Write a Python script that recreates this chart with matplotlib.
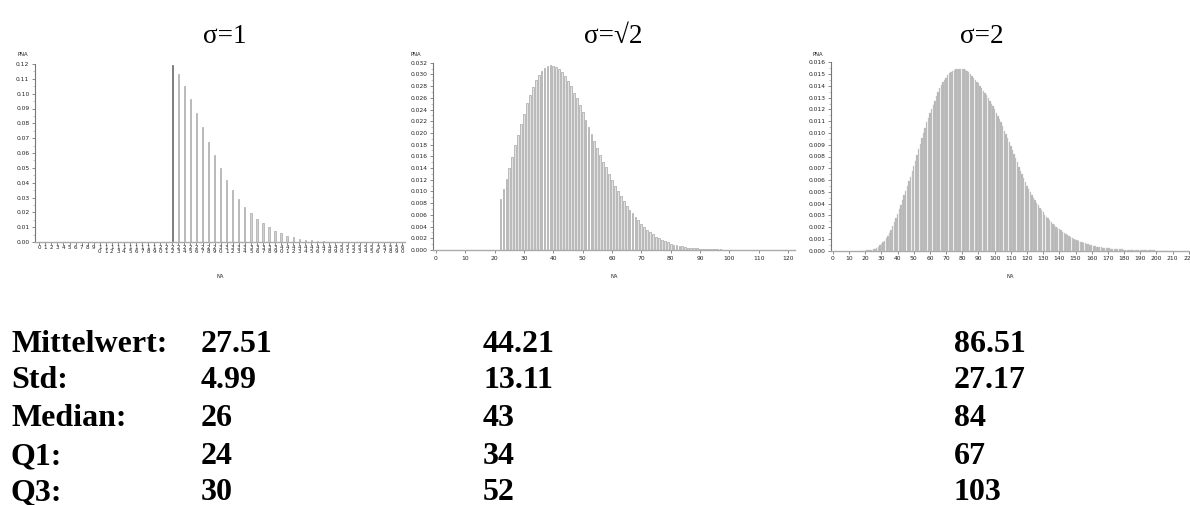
"""Three NA distributions (sigma = 1, sqrt2, 2) with summary statistics below."""

import numpy as np
import matplotlib.pyplot as plt
from matplotlib.ticker import MultipleLocator, AutoMinorLocator, FixedLocator

plt.rcParams.update({"font.family": "DejaVu Sans"})

W, H = 1190, 505

# --- data ----------------------------------------------------------------
titles = ["σ=1", "σ=√2", "σ=2"]

# panel 1: categorical axis 0..60, bars from NA=22
na1_start = 22
pna1 = [0.1190, 0.1135, 0.1054, 0.0962, 0.0868, 0.0773, 0.0674, 0.0587, 0.0501, 0.0418,
        0.0351, 0.0290, 0.0238, 0.0198, 0.0157, 0.0126, 0.0099, 0.0076, 0.0058, 0.0043,
        0.0032, 0.0022, 0.0016, 0.0011, 0.0007, 0.0005, 0.0003, 0.0002, 0.0001, 0.0001]

# panel 2: bars from NA=22
na2_start = 22
pna2 = [.0087, .0104, .0121, .0140, .0159, .0179, .0197, .0215, .0232, .0251,
        .0265, .0278, .0290, .0299, .0306, .0311, .0315, .0316, .0315, .0313,
        .0309, .0304, .0297, .0289, .0280, .0269, .0259, .0247, .0235, .0222,
        .0210, .0198, .0186, .0174, .0162, .0151, .0141, .0130, .0120, .0110,
        .0101, .0093, .0084, .0076, .0069, .0063, .0056, .0051, .0045, .0040,
        .0035, .0031, .0027, .0023, .0020, .0017, .0015, .0013, .0011, .0009,
        .0008, .0007, .0006, .0005, .0004, .0004, .0003, .0003, .0002, .0002,
        .0002, .0001, .0001, .0001, .0001, .0001, .00005, .00005, .00005, .00005,
        .00005, .00005, .00005, .00005]

# panel 3: bars from NA=18, values in units of 1e-4
na3_start = 18
pna3_e4 = [0.05, 0.08, 0.1, 0.2, 0.3, 0.5, 0.7, 1.1, 1.5, 2.4,
           3.5, 4.7, 6, 7.2, 8.5, 10.4, 12.5, 15.2, 18, 21,
           24, 27.5, 31, 35, 39, 43, 47, 51, 55, 59,
           63, 67.5, 72, 76.5, 81, 86, 91, 95.5, 100, 104.5,
           109, 113, 117, 120.5, 124, 127.5, 131, 134.5, 138, 140.5,
           143, 145, 147, 149, 150.5, 152, 153, 153.5, 154, 154.3,
           154.5, 154.5, 154.5, 154, 153.5, 152.5, 151.5, 150, 148.5, 147,
           145, 143.5, 142, 140, 138, 136, 134, 132, 130, 127.5,
           125, 122.5, 120, 117, 114, 111.5, 109, 105.5, 102, 99,
           96, 92.5, 89, 85.5, 82, 78.5, 75, 71.5, 68, 65,
           62, 58.5, 55, 52.5, 50, 47.5, 45, 42.7, 40.5, 38.5,
           36.5, 34.5, 32.5, 30.7, 29, 27.5, 26, 24.5, 23, 21.7,
           20.5, 19.5, 18.5, 17.2, 16, 15, 14, 13.2, 12.5, 11.7,
           11, 10.2, 9.5, 9, 8.5, 7.8, 7.2, 6.7, 6.2, 5.7,
           5.3, 4.9, 4.5, 4.1, 3.8, 3.5, 3.2, 3, 2.8, 2.6,
           2.4, 2.2, 2.1, 1.9, 1.8, 1.7, 1.6, 1.5, 1.4, 1.3,
           1.2, 1.1, 1.0, 0.95, 0.9, 0.85, 0.8, 0.75, 0.7, 0.65,
           0.6, 0.55, 0.5, 0.45, 0.4, 0.37, 0.34, 0.3, 0.27, 0.24,
           0.21, 0.18, 0.15, 0.13, 0.11, 0.1, 0.09, 0.08, 0.07, 0.06,
           0.05, 0.04, 0.03]

stat_names = ["Mittelwert:", "Std:", "Median:", "Q1:", "Q3:"]
stats_s1 = ["27.51", "4.99", "26", "24", "30"]
stats_s2 = ["44.21", "13.11", "43", "34", "52"]
stats_s3 = ["86.51", "27.17", "84", "67", "103"]

# --- figure -------------------------------------------------------------------
fig = plt.figure(figsize=(W / 100, H / 100), dpi=100)


def px_axes(left, right, top, bottom):
    return fig.add_axes([left / W, 1 - bottom / H, (right - left) / W, (bottom - top) / H])


def style(ax):
    ax.spines[['top', 'right']].set_visible(False)
    ax.spines['left'].set_color('#777777')
    ax.spines['bottom'].set_color('#aaaaaa')
    ax.spines['left'].set_linewidth(0.8)
    ax.spines['bottom'].set_linewidth(1.0)
    ax.tick_params(axis='both', which='major', length=2.5, width=0.6, color='#777777',
                   labelsize=4.3, pad=1.5, labelcolor='#222222')
    ax.yaxis.set_minor_locator(AutoMinorLocator(2))
    ax.tick_params(axis='y', which='minor', length=1.2, width=0.4, color='#999999')
    ax.set_facecolor('none')


# panel 1
ax1 = px_axes(35, 405, 64, 242)
x1 = np.arange(na1_start, na1_start + len(pna1))
cols1 = ['#555555'] + ['#a8a8a8'] * (len(pna1) - 1)
ax1.bar(x1, pna1, width=0.22, color='#d0d0d0', edgecolor=cols1, linewidth=0.5)
ax1.set_xlim(-0.71, 60.5)
ax1.set_ylim(0, 0.12)
ax1.set_yticks(np.arange(0, 0.1201, 0.01))
ax1.set_yticklabels([f"{v:.2f}" for v in np.arange(0, 0.1201, 0.01)])
style(ax1)
# category labels: tens digit on the first row, units digit on the second
cats = list(range(0, 61))
ax1.xaxis.remove_overlapping_locs = False
ax1.xaxis.set_major_locator(FixedLocator(cats))
ax1.xaxis.set_major_formatter(plt.FixedFormatter([str(c)[0] for c in cats]))
ax1.xaxis.set_minor_locator(FixedLocator(cats))
ax1.xaxis.set_minor_formatter(plt.FixedFormatter([str(c)[1] if c >= 10 else "" for c in cats]))
ax1.tick_params(axis='x', which='major', length=2.0, pad=0.5, labelsize=4.0)
ax1.tick_params(axis='x', which='minor', length=0, pad=5.2, labelsize=4.0,
                labelcolor='#222222')

# panel 2
ax2 = px_axes(433, 795, 62.7, 250)
x2 = np.arange(na2_start, na2_start + len(pna2))
ax2.bar(x2, pna2, width=0.6, color='#e2e2e2', edgecolor='#9c9c9c', linewidth=0.45)
ax2.set_xlim(-1.02, 122.4)
ax2.set_ylim(0, 0.032)
ax2.set_yticks(np.arange(0, 0.03201, 0.002))
ax2.set_yticklabels([f"{v:.3f}" for v in np.arange(0, 0.03201, 0.002)])
ax2.xaxis.set_major_locator(MultipleLocator(10))
style(ax2)

# panel 3
ax3 = px_axes(831, 1197, 62.3, 250.7)
x3 = np.arange(na3_start, na3_start + len(pna3_e4))
ax3.bar(x3, np.array(pna3_e4) * 1e-4, width=0.85, color='#b3b3b3',
        edgecolor='#cdcdcd', linewidth=0.25)
ax3.set_xlim(-1.2, 225.1)
ax3.set_ylim(0, 0.016)
ax3.set_yticks(np.arange(0, 0.01601, 0.001))
ax3.set_yticklabels([f"{v:.3f}" for v in np.arange(0, 0.01601, 0.001)])
ax3.set_xticks(np.arange(0, 221, 10))
style(ax3)

# axis captions
for x, y in [(23, 54), (416, 54), (818, 54)]:
    fig.text(x / W, 1 - y / H, "PNA", fontsize=3.8, ha='center', va='center', color='#222222')
for x in [220, 614, 1010]:
    fig.text(x / W, 1 - 277 / H, "NA", fontsize=3.8, ha='center', va='center', color='#222222')

# titles
for x, t in zip([225, 613, 982], titles):
    fig.text(x / W, 1 - 43 / H, t, fontsize=19.5, family='Liberation Serif',
             ha='center', va='baseline')

# statistics table
baselines = [352, 388, 426, 464, 500]
for col_x, col in zip([11, 201, 483, 954], [stat_names, stats_s1, stats_s2, stats_s3]):
    for b, s in zip(baselines, col):
        fig.text(col_x / W, 1 - b / H, s, fontsize=23, family='Liberation Serif',
                 weight='bold', ha='left', va='baseline')

fig.savefig("out.png", dpi=100)
